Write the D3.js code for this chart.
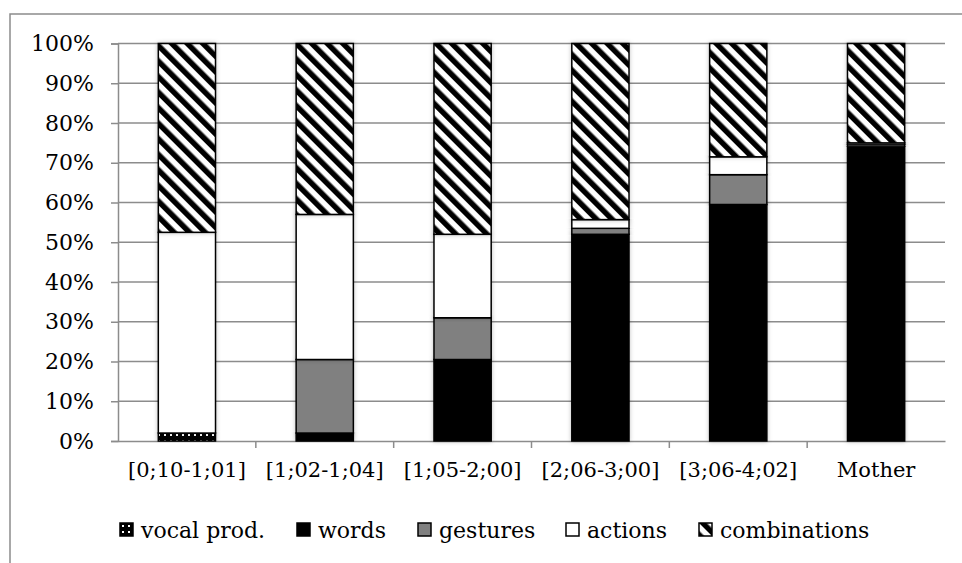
<!DOCTYPE html>
<html>
<head>
<meta charset="utf-8">
<script src="https://cdn.jsdelivr.net/npm/d3@7"></script>
<style>
  body { margin: 0; background: #fff; }
  svg text { font-family: "DejaVu Serif", serif; fill: #000; }
</style>
</head>
<body>
<svg id="chart" width="962" height="563"></svg>
<script>
// values in percent
var categories = ["[0;10-1;01]", "[1;02-1;04]", "[1;05-2;00]", "[2;06-3;00]", "[3;06-4;02]", "Mother"];
var seriesNames = ["vocal prod.", "words", "gestures", "actions", "combinations"];
var vocal = [2, 0, 0, 0, 0, 0];
var words = [0, 2, 20.5, 52, 59.5, 74];
var gestures = [0, 18.5, 10.5, 1.5, 7.5, 0.5];
var actions = [50.5, 36.5, 21, 2.2, 4.5, 0.5];
var combinations = [47.5, 43, 48, 44.3, 28.5, 25];
var yTicks = [0, 10, 20, 30, 40, 50, 60, 70, 80, 90, 100];

var FONT = "DejaVu Serif";
var svg = d3.select("#chart");
var defs = svg.append("defs");

// dotted fill for vocal prod.
var pDots = defs.append("pattern").attr("id", "pDots")
    .attr("patternUnits", "userSpaceOnUse").attr("width", 6).attr("height", 6);
pDots.append("rect").attr("width", 6).attr("height", 6).attr("fill", "#000");
pDots.append("rect").attr("x", 2).attr("y", 2).attr("width", 2).attr("height", 2).attr("fill", "#fff");

// wide downward diagonal for combinations
var pDiag = defs.append("pattern").attr("id", "pDiag")
    .attr("patternUnits", "userSpaceOnUse").attr("width", 11).attr("height", 11)
    .attr("patternTransform", "rotate(-45)");
pDiag.append("rect").attr("width", 11).attr("height", 11).attr("fill", "#fff");
pDiag.append("rect").attr("width", 5.5).attr("height", 11).attr("fill", "#000");

var shadow = defs.append("filter").attr("id", "shadow")
    .attr("x", "-20%").attr("y", "-5%").attr("width", "140%").attr("height", "110%");
shadow.append("feDropShadow").attr("dx", 0).attr("dy", 0).attr("stdDeviation", 2)
    .attr("flood-color", "#000").attr("flood-opacity", 0.25);

var fills = ["url(#pDots)", "#000", "#808080", "#fff", "url(#pDiag)"];

var x = d3.scaleBand().domain(categories).range([118, 945]);
var y = d3.scaleLinear().domain([0, 100]).range([441, 43.5]);
var barW = x.bandwidth() * 0.415;

// outer frame
svg.append("path").attr("d", "M10,563V14H962")
    .attr("fill", "none").attr("stroke", "#8c8c8c").attr("stroke-width", 1.5);

// grid
svg.append("g").selectAll("line").data(yTicks.slice(1)).enter().append("line")
    .attr("x1", 118).attr("x2", 945)
    .attr("y1", function(d){ return y(d); }).attr("y2", function(d){ return y(d); })
    .attr("stroke", "#8c8c8c").attr("stroke-width", 1.5);

// y axis
var yAxis = svg.append("g").attr("transform", "translate(118,0)")
    .call(d3.axisLeft(y).tickValues(yTicks).tickSize(7).tickPadding(17)
        .tickFormat(function(d){ return d + "%"; }));
yAxis.attr("font-family", FONT);
yAxis.selectAll("text").style("font-size", "22px").style("font-family", FONT);
yAxis.selectAll("line, path").attr("stroke", "#8c8c8c").attr("stroke-width", 1.5);

// x axis
var xAxis = svg.append("g").attr("transform", "translate(0,441)")
    .call(d3.axisBottom(x).tickSize(0).tickPadding(21));
xAxis.attr("font-family", FONT);
xAxis.selectAll("text").style("font-size", "21px").style("font-family", FONT);
xAxis.select(".domain").attr("stroke", "#8c8c8c").attr("stroke-width", 1.5);
// ticks between categories
xAxis.selectAll(".sep").data(categories.slice(1)).enter().append("line")
    .attr("x1", function(d){ return x(d); }).attr("x2", function(d){ return x(d); })
    .attr("y1", 0).attr("y2", 7).attr("stroke", "#8c8c8c").attr("stroke-width", 1.5);

// stacked bars
var rows = categories.map(function(c, i){
    return {cat: c, vocal: vocal[i], words: words[i], gestures: gestures[i],
            actions: actions[i], combinations: combinations[i]};
});
var keys = ["vocal", "words", "gestures", "actions", "combinations"];
var stack = d3.stack().keys(keys)(rows);

var barG = svg.append("g");
stack.forEach(function(layer, k){
    barG.selectAll(".s" + k).data(layer.filter(function(d){ return d[1] - d[0] > 0; }))
        .enter().append("rect")
        .attr("x", function(d){ return x(d.data.cat) + (x.bandwidth() - barW) / 2; })
        .attr("width", barW)
        .attr("y", function(d){ return y(d[1]); })
        .attr("height", function(d){ return y(d[0]) - y(d[1]); })
        .attr("fill", fills[k])
        .attr("stroke", "#000").attr("stroke-width", 1.5)
        .attr("filter", "url(#shadow)");
});

// legend
var legendX = [120, 297, 418, 566, 699];
var leg = svg.append("g");
seriesNames.forEach(function(name, k){
    var g = leg.append("g").attr("transform", "translate(" + legendX[k] + ",523)");
    g.append("rect").attr("width", 13).attr("height", 13)
        .attr("fill", fills[k]).attr("stroke", "#000").attr("stroke-width", 1.5);
    g.append("text").attr("x", 21).attr("y", 15).style("font-size", "22px")
        .style("font-family", FONT).text(name);
});
</script>
</body>
</html>
